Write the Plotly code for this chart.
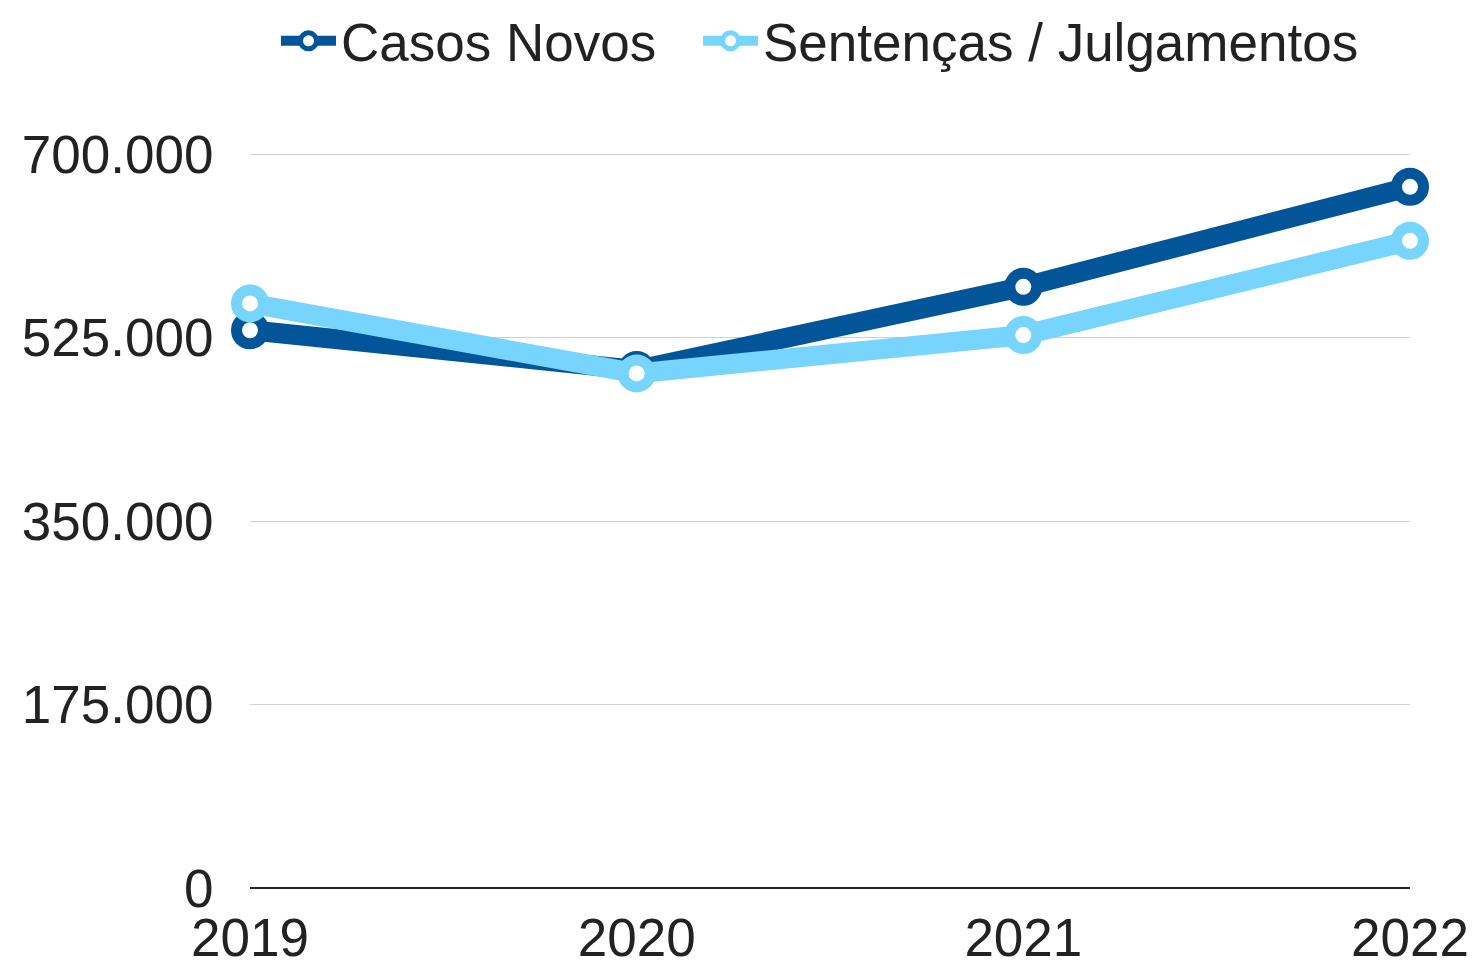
import plotly.graph_objects as go

years = ["2019", "2020", "2021", "2022"]
casos_novos = [532000, 494000, 573400, 668800]
sentencas = [557600, 490800, 527400, 617300]
y_ticks = [0, 175000, 350000, 525000, 700000]
y_tick_labels = ["0", "175.000", "350.000", "525.000", "700.000"]

dark = "#03559a"
light = "#76d4fd"
fs = 53

fig = go.Figure()
fig.add_trace(go.Scatter(
    x=years, y=casos_novos, name="Casos Novos", mode="lines+markers",
    line=dict(color=dark, width=20),
    marker=dict(size=27, color="white", line=dict(color=dark, width=11)),
    cliponaxis=False, legend="legend",
))
fig.add_trace(go.Scatter(
    x=years, y=sentencas, name="Sentenças / Julgamentos", mode="lines+markers",
    line=dict(color=light, width=20),
    marker=dict(size=27, color="white", line=dict(color=light, width=11)),
    cliponaxis=False, legend="legend2",
))

legend_common = dict(orientation="h", yanchor="middle", y=1.151, xanchor="left",
                     font=dict(size=fs, color="#222222"), itemwidth=55,
                     bgcolor="rgba(0,0,0,0)")

fig.update_layout(
    width=1468, height=960,
    margin=dict(l=242, r=66, t=144, b=80, autoexpand=False),
    paper_bgcolor="white", plot_bgcolor="white",
    font=dict(family="Liberation Sans, Arial, sans-serif", size=fs, color="#222222"),
    showlegend=True,
    legend=dict(legend_common, x=(276 - 250) / 1160),
    legend2=dict(legend_common, x=(698 - 250) / 1160),
    xaxis=dict(
        type="category", range=[0, 3], showgrid=False, zeroline=False,
        showline=False, ticks="outside", ticklen=3, tickcolor="rgba(0,0,0,0)",
        tickfont=dict(size=fs, color="#222222"), automargin=False,
    ),
    yaxis=dict(
        range=[0, 702000], tickvals=y_ticks, ticktext=y_tick_labels,
        showgrid=True, gridcolor="#d0d0d0", gridwidth=1,
        zeroline=True, zerolinecolor="#222222", zerolinewidth=2,
        ticks="outside", ticklen=25, tickcolor="rgba(0,0,0,0)",
        tickfont=dict(size=fs, color="#222222"), automargin=False,
    ),
)

fig.write_html("out.html")
